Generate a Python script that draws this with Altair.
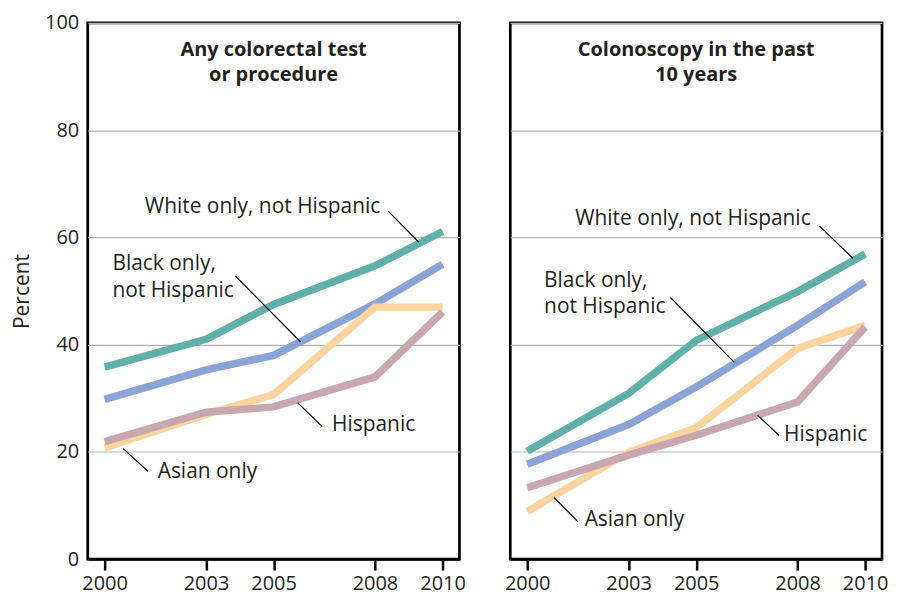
import altair as alt
import pandas as pd

# ---------------- data ----------------
years = [2000, 2003, 2005, 2008, 2010]
groups = ["White only, not Hispanic", "Black only, not Hispanic", "Asian only", "Hispanic"]
colors = ["#60b0a9", "#8ba3d6", "#fdd4a0", "#c8a7b0"]

any_white = [35.8, 41.0, 47.5, 54.7, 61.1]
any_black = [29.8, 35.3, 38.0, 47.6, 55.0]
any_asian = [20.8, 27.0, 30.7, 47.0, 47.0]
any_hisp = [21.9, 27.4, 28.4, 34.0, 46.1]

col_white = [20.1, 30.9, 40.8, 49.9, 56.9]
col_black = [17.7, 25.1, 32.1, 43.6, 51.7]
col_asian = [8.9, 19.9, 24.5, 39.3, 43.6]
col_hisp = [13.3, 19.4, 23.1, 29.3, 43.3]

panel_titles = [["Any colorectal test", "or procedure"], ["Colonoscopy in the past", "10 years"]]
title_x = [2005.0, 2005.0]
title_y = [95.0, 90.3]

# annotation labels (text, year position, percent position)
any_lab_text = ["White only, not Hispanic", "Black only,", "not Hispanic", "Hispanic", "Asian only"]
any_lab_x = [2001.19, 2000.23, 2000.23, 2006.73, 2001.57]
any_lab_y = [65.6, 55.0, 50.0, 25.1, 16.2]
any_lead_x = [2008.39, 2003.87, 2006.44, 2000.55]
any_lead_y = [64.9, 52.8, 24.7, 20.6]
any_lead_x2 = [2009.30, 2005.80, 2005.71, 2001.28]
any_lead_y2 = [59.1, 40.5, 29.2, 16.4]

col_lab_text = ["White only, not Hispanic", "Black only,", "not Hispanic", "Hispanic", "Asian only"]
col_lab_x = [2001.42, 2000.50, 2000.50, 2007.60, 2001.70]
col_lab_y = [63.4, 51.9, 47.0, 23.1, 7.3]
col_lead_x = [2008.65, 2004.24, 2007.45, 2000.79]
col_lead_y = [62.1, 48.8, 23.1, 11.5]
col_lead_x2 = [2009.64, 2006.13, 2006.82, 2001.50]
col_lead_y2 = [56.1, 36.7, 26.8, 7.0]

x_ticks = [2000, 2003, 2005, 2008, 2010]
y_ticks = [0, 20, 40, 60, 80, 100]

FONT = "Open Sans"
TXT = "#231f20"


def series_df(vals):
    rows = []
    for g, v in zip(groups, vals):
        for yr, val in zip(years, v):
            rows.append({"year": yr, "value": val, "group": g})
    return pd.DataFrame(rows)


def panel(vals, title_lines, tx, ty, lab_text, lab_x, lab_y, lx, ly, lx2, ly2, show_y):
    xscale = alt.Scale(domain=[1999.5, 2010.5], nice=False, zero=False)
    yscale = alt.Scale(domain=[0, 100], nice=False)
    xaxis = alt.Axis(values=x_ticks, format="d", title=None, grid=False,
                     tickSize=11, tickWidth=2.5, tickColor="black",
                     domainColor="black", domainWidth=2.5,
                     labelFont=FONT, labelFontSize=20, labelColor=TXT, labelPadding=3)
    if show_y:
        yaxis = alt.Axis(values=y_ticks, title="Percent", grid=True, gridColor="#b3b3b3",
                         gridWidth=1.2, ticks=False, domain=False,
                         labelFont=FONT, labelFontSize=20, labelColor=TXT, labelPadding=9,
                         titleFont=FONT, titleFontSize=21, titleFontWeight="normal",
                         titleColor=TXT, titlePadding=12)
    else:
        yaxis = alt.Axis(values=y_ticks, title=None, grid=True, gridColor="#b3b3b3",
                         gridWidth=1.2, ticks=False, domain=False, labels=False)

    lines = alt.Chart(series_df(vals)).mark_line(strokeWidth=7.5, strokeCap="butt").encode(
        x=alt.X("year:Q", scale=xscale, axis=xaxis),
        y=alt.Y("value:Q", scale=yscale, axis=yaxis),
        color=alt.Color("group:N", scale=alt.Scale(domain=groups, range=colors), legend=None),
    )

    tdf = pd.DataFrame({"t": title_lines, "x": tx, "y": ty})
    titles = alt.Chart(tdf).mark_text(font=FONT, fontSize=20, fontWeight="bold",
                                       color=TXT, align="center", baseline="middle").encode(
        x="x:Q", y="y:Q", text="t:N")

    ldf = pd.DataFrame({"t": lab_text, "x": lab_x, "y": lab_y})
    labels = alt.Chart(ldf).mark_text(font=FONT, fontSize=21, color=TXT,
                                       align="left", baseline="middle").encode(
        x="x:Q", y="y:Q", text="t:N")

    rdf = pd.DataFrame({"x": lx, "y": ly, "x2": lx2, "y2": ly2})
    leaders = alt.Chart(rdf).mark_rule(color="black", strokeWidth=1.2).encode(
        x="x:Q", y="y:Q", x2="x2:Q", y2="y2:Q")

    return alt.layer(lines, leaders, labels, titles).properties(width=373, height=538)


left = panel([any_white, any_black, any_asian, any_hisp], panel_titles[0], title_x, title_y,
             any_lab_text, any_lab_x, any_lab_y,
             any_lead_x, any_lead_y, any_lead_x2, any_lead_y2, True)
right = panel([col_white, col_black, col_asian, col_hisp], panel_titles[1], title_x, title_y,
              col_lab_text, col_lab_x, col_lab_y,
              col_lead_x, col_lead_y, col_lead_x2, col_lead_y2, False)

chart = alt.hconcat(left, right, spacing=51, bounds="flush").properties(
    padding={"left": 2, "top": 2, "right": 0, "bottom": 0}
).configure_view(stroke="black", strokeWidth=2.7)

chart.save("out.html", embed_options={"renderer": "svg", "actions": False})
